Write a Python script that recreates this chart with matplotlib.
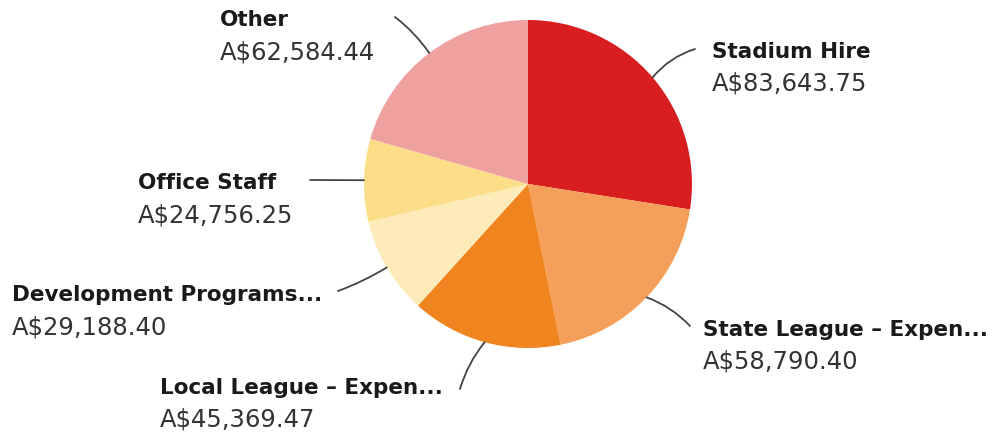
import matplotlib
matplotlib.use('Agg')
import matplotlib.pyplot as plt
import numpy as np

categories = ['Stadium Hire', 'State League – Expen...', 'Local League – Expen...',
              'Development Programs...', 'Office Staff', 'Other']
values = [83643.75, 58790.40, 45369.47, 29188.40, 24756.25, 62584.44]
colors = ['#D91E20', '#F5A05A', '#F0841E', '#FDEBB9', '#FCDE88', '#EFA1A0']

# label layout in pixels (left x, top y of name) and outer end of leader line
label_pos = [(712, 42), (703, 320), (160, 378), (12, 285), (138, 173), (220, 10)]
line_end = [(695, 50), (690, 327), (460, 390), (338, 292), (310, 181), (395, 18)]
line_rad = [0.15, 0.12, -0.1, 0.05, 0.0, -0.08]

W, H = 998, 439
cx, cy, r = 528, 185, 164


def fmt_money(v):
    return 'A${:,.2f}'.format(v)


def main():
    fig = plt.figure(figsize=(W / 100, H / 100), dpi=100)
    ax = fig.add_axes([0, 0, 1, 1])

    wedges, _ = ax.pie(values, colors=colors, startangle=90, counterclock=False,
                       center=(cx, H - cy), radius=r,
                       wedgeprops={'linewidth': 0})
    ax.set_xlim(0, W)
    ax.set_ylim(0, H)
    ax.set_aspect('equal')
    ax.axis('off')

    for w, cat, v, (lx, ly), (ex, ey), rad in zip(wedges, categories, values,
                                                   label_pos, line_end, line_rad):
        mid = np.deg2rad((w.theta1 + w.theta2) / 2)
        px = cx + r * np.cos(mid)
        py = H - cy + r * np.sin(mid)
        ax.annotate('', xy=(px, py), xytext=(ex, H - ey),
                    arrowprops=dict(arrowstyle='-', color='#444444', lw=1.3,
                                    connectionstyle='arc3,rad=%s' % rad,
                                    shrinkA=0, shrinkB=0))
        ax.text(lx, H - ly, cat, fontsize=15.5, fontweight='bold', color='#1a1a1a',
                ha='left', va='top')
        ax.text(lx, H - ly - 30, fmt_money(v), fontsize=17.5, color='#333333',
                ha='left', va='top')

    fig.savefig('out.png', dpi=100, facecolor='white')


if __name__ == "__main__":
    main()
